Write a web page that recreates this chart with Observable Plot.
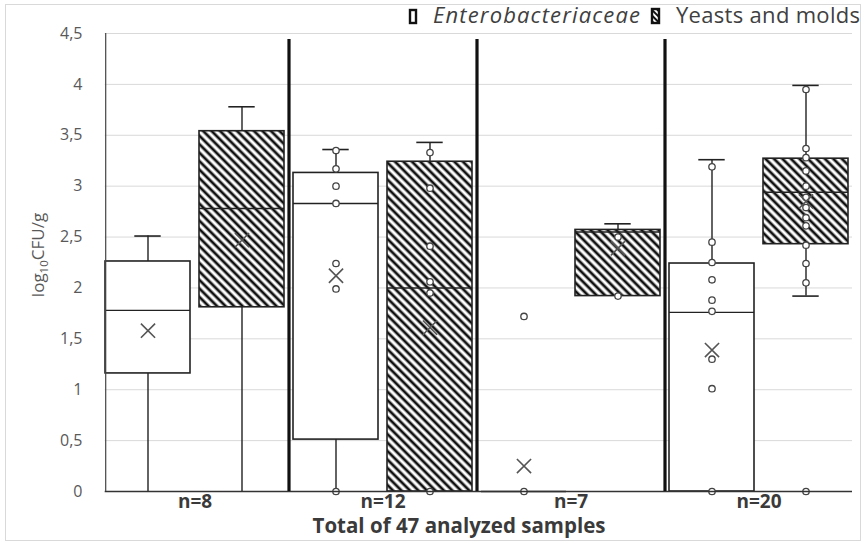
<!DOCTYPE html>
<html>
<head>
<meta charset="utf-8">
<script src="https://cdn.jsdelivr.net/npm/d3@7"></script>
<script src="https://cdn.jsdelivr.net/npm/@observablehq/plot@0.6"></script>
<style>
  body { margin: 0; background: #fff; font-family: "Open Sans", sans-serif; }
  #wrap { position: relative; width: 865px; height: 545px; overflow: hidden; background: #fff; }
  #chart { position: absolute; left: 0; top: 0; }
  #border { position: absolute; left: 5px; top: 4px; width: 854px; height: 535px; border: 1px solid #d9d9d9; pointer-events: none; }
</style>
</head>
<body>
<div id="wrap">
  <div id="chart"></div>
  <div id="border"></div>
</div>
<script>
// ---- data ----
const groups = ["n=8", "n=12", "n=7", "n=20"];
const seriesNames = ["Enterobacteriaceae", "Yeasts and molds"];
const yTicks = [0, 0.5, 1, 1.5, 2, 2.5, 3, 3.5, 4, 4.5];
const xTitle = "Total of 47 analyzed samples";

// Enterobacteriaceae box statistics (log10 CFU/g)
const entMin    = [0,    0,    0,    0];
const entQ1     = [1.16, 0.51, 0,    0];
const entMedian = [1.78, 2.83, 0,    1.76];
const entQ3     = [2.26, 3.13, 0,    2.24];
const entMax    = [2.51, 3.36, 0,    3.26];
const entMean   = [1.58, 2.12, 0.25, 1.39];

// Yeasts and molds box statistics (log10 CFU/g)
const yeaMin    = [0,    0,    1.92, 1.92];
const yeaQ1     = [1.81, 0,    1.92, 2.43];
const yeaMedian = [2.78, 2.00, 2.55, 2.94];
const yeaQ3     = [3.54, 3.24, 2.57, 3.27];
const yeaMax    = [3.78, 3.43, 2.63, 3.99];
const yeaMean   = [2.47, 1.61, 2.39, 2.85];

// individual sample points shown
const entPoints = [[], [3.35, 3.17, 3.0, 2.83, 2.24, 1.99, 0], [1.72, 0], [3.19, 2.45, 2.25, 2.08, 1.88, 1.77, 1.30, 1.01, 0]];
const yeaPoints = [[], [3.33, 2.98, 2.41, 2.06, 1.95, 0], [2.5, 1.92], [3.95, 3.37, 3.28, 3.15, 3.0, 2.89, 2.79, 2.69, 2.61, 2.42, 2.24, 2.05, 0]];

// ---- tables built from the arrays ----
const keys = [];
const rows = [];
const pts = [];
groups.forEach((g, i) => {
  const kE = g + "|E", kY = g + "|Y";
  keys.push(kE, kY);
  rows.push({key: kE, group: g, series: seriesNames[0], fill: "white",
    min: entMin[i], q1: entQ1[i], median: entMedian[i], q3: entQ3[i], max: entMax[i], mean: entMean[i]});
  rows.push({key: kY, group: g, series: seriesNames[1], fill: "url(#hatch)",
    min: yeaMin[i], q1: yeaQ1[i], median: yeaMedian[i], q3: yeaQ3[i], max: yeaMax[i], mean: yeaMean[i]});
  entPoints[i].forEach(v => pts.push({key: kE, v}));
  yeaPoints[i].forEach(v => pts.push({key: kY, v}));
});
const groupRows = groups.map(g => ({group: g, key: g + "|E"}));
const sepKeys = groups.slice(0, -1).map(g => g + "|Y");

const W = 865, H = 545, mL = 100, mR = 13, mT = 33, mB = 54;
const step = (W - mL - mR) / keys.length;
const bandwidth = step * 0.9;
const capInset = (bandwidth - 26) / 2;
const fmt = d => String(d).replace(".", ",");
const ink = "#222";

const chart = Plot.plot({
  width: W, height: H,
  marginLeft: mL, marginRight: mR, marginTop: mT, marginBottom: mB,
  style: {fontFamily: "'Open Sans', sans-serif", fontSize: "16px", color: "#595959", background: "white"},
  x: {type: "band", domain: keys, paddingInner: 0.1, paddingOuter: 0.05, axis: null},
  y: {domain: [0, 4.5], ticks: yTicks, tickFormat: fmt, tickSize: 0, tickPadding: 18, label: null},
  color: {type: "identity"},
  marks: [
    Plot.ruleY(yTicks.filter(t => t > 0), {stroke: "#d9d9d9", strokeWidth: 1, insetLeft: step / 2 - bandwidth / 2}),
    // whiskers
    Plot.ruleX(rows, {x: "key", y1: "q3", y2: "max", stroke: ink, strokeWidth: 1.4}),
    Plot.ruleX(rows, {x: "key", y1: "min", y2: "q1", stroke: ink, strokeWidth: 1.4}),
    Plot.tickY(rows.filter(d => d.max > d.q3), {x: "key", y: "max", stroke: ink, strokeWidth: 1.6, insetLeft: capInset, insetRight: capInset}),
    Plot.tickY(rows.filter(d => d.min < d.q1 && d.min > 0), {x: "key", y: "min", stroke: ink, strokeWidth: 1.6, insetLeft: capInset, insetRight: capInset}),
    // boxes
    Plot.barY(rows, {x: "key", y1: "q1", y2: "q3", fill: "fill", stroke: ink, strokeWidth: 1.6}),
    Plot.tickY(rows, {x: "key", y: "median", stroke: ink, strokeWidth: 1.4}),
    // sample points
    Plot.dot(pts, {x: "key", y: "v", r: 3.2, stroke: "#444", strokeWidth: 1.3, fill: "white"}),
    // mean markers
    Plot.dot(rows, {x: "key", y: "mean", symbol: "times", r: 6.5, stroke: "#555", strokeWidth: 1.6}),
    // baseline, left axis line and group separators
    Plot.ruleY([0], {stroke: "#333", strokeWidth: 1.3, insetLeft: step / 2 - bandwidth / 2}),
    Plot.ruleX([keys[0]], {x: d => d, y1: 0, y2: 4.5, dx: -bandwidth / 2, stroke: "#444", strokeWidth: 1.2}),
    Plot.ruleX(sepKeys, {x: d => d, y1: 0, y2: 4.5, dx: step / 2, stroke: "#111", strokeWidth: 3.2, insetBottom: -6}),
    // group labels
    Plot.text(groupRows, {x: "key", text: "group", frameAnchor: "bottom", dx: step / 2, dy: 16,
      fontWeight: "bold", fontSize: 19, fill: "#3a3a3a"})
  ]
});

const svg = d3.select(chart);
svg.insert("defs", ":first-child").html(
  '<pattern id="hatch" patternUnits="userSpaceOnUse" width="6" height="6" patternTransform="rotate(-45)">' +
  '<rect width="6" height="6" fill="white"/><line x1="3" y1="0" x2="3" y2="6" stroke="#111" stroke-width="2.8"/></pattern>' +
  '<pattern id="hatchL" patternUnits="userSpaceOnUse" width="4" height="4" patternTransform="rotate(-45)">' +
  '<rect width="4" height="4" fill="white"/><line x1="2" y1="0" x2="2" y2="4" stroke="#111" stroke-width="2"/></pattern>'
);
// y axis title with subscript
const yt = svg.append("text")
  .attr("transform", "translate(44,255) rotate(-90)")
  .attr("text-anchor", "middle")
  .attr("fill", "#595959")
  .attr("font-size", 17);
yt.append("tspan").text("log");
yt.append("tspan").attr("font-size", 11.5).attr("dy", 4).text("10");
yt.append("tspan").attr("dy", -4).text("CFU/g");
// x axis title
svg.append("text")
  .attr("x", 459).attr("y", 533)
  .attr("text-anchor", "middle")
  .attr("font-weight", "bold").attr("font-size", 20.5).attr("fill", "#3a3a3a")
  .text(xTitle);
// legend
const lg = svg.append("g").attr("font-size", 22).attr("fill", "#404040").attr("text-anchor", "start");
lg.append("rect").attr("x", 410).attr("y", 10).attr("width", 6).attr("height", 13)
  .attr("fill", "white").attr("stroke", "#111").attr("stroke-width", 2.4);
lg.append("text").attr("x", 433).attr("y", 23).attr("font-style", "italic").attr("text-anchor", "start")
  .attr("textLength", 207).attr("lengthAdjust", "spacing").text(seriesNames[0]);
lg.append("rect").attr("x", 652).attr("y", 9).attr("width", 7).attr("height", 14)
  .attr("fill", "url(#hatchL)").attr("stroke", "#111").attr("stroke-width", 2.4);
lg.append("text").attr("x", 676).attr("y", 23).attr("text-anchor", "start")
  .attr("textLength", 184).attr("lengthAdjust", "spacing").text(seriesNames[1]);

document.getElementById("chart").appendChild(chart);
</script>
</body>
</html>
